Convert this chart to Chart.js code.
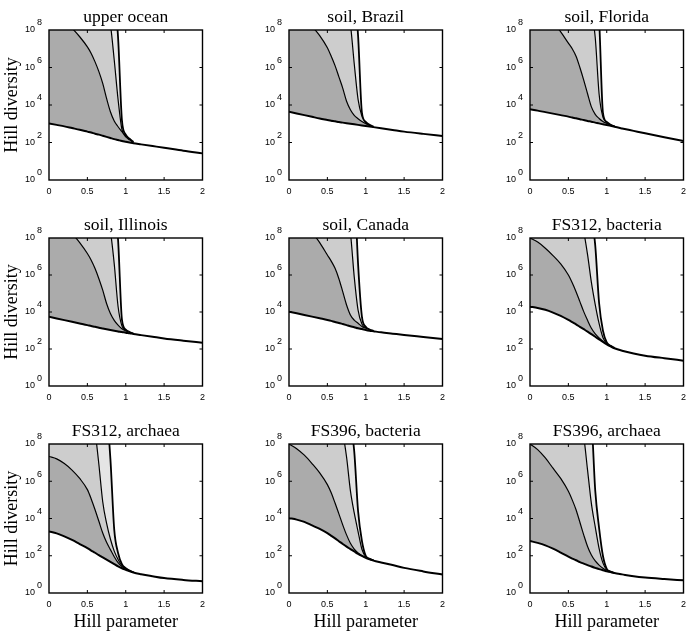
<!DOCTYPE html>
<html>
<head>
<meta charset="utf-8">
<script src="https://cdn.jsdelivr.net/npm/chart.js@4.4.1/dist/chart.umd.min.js"></script>
<style>
  body { margin: 0; background: #fff; }
  #wrap { position: relative; width: 692px; height: 635px; }
  canvas { position: absolute; }
</style>
</head>
<body>
<div id="wrap"></div>
<script>
// Hill parameter q, shared grid for every curve
const hillQ = [0, 0.1, 0.2, 0.3, 0.4, 0.5, 0.55, 0.6, 0.65, 0.7, 0.75, 0.8, 0.85, 0.9, 0.95, 1, 1.05, 1.1, 1.2, 1.35, 1.5, 1.75, 2];
const xTicks = [0, 0.5, 1, 1.5, 2];
const yExponents = [0, 2, 4, 6, 8];
const titles = ['upper ocean', 'soil, Brazil', 'soil, Florida', 'soil, Illinois', 'soil, Canada',
  'FS312, bacteria', 'FS312, archaea', 'FS396, bacteria', 'FS396, archaea'];

// log10 of Hill diversity. Lo = lower bound (whole q range),
// Mid / Up / Top = upper estimates, only up to q = 1.1 where they join Lo
const oceanLo = [3.02,2.94,2.86,2.77,2.68,2.58,2.53,2.47,2.42,2.36,2.30,2.24,2.18,2.13,2.08,2.04,2.00,1.96,1.90,1.81,1.72,1.56,1.42];
const oceanMid = [9.0,8.8,8.5,8.1,7.64,7.1,6.75,6.3,5.78,5.15,4.35,3.64,3.15,2.84,2.58,2.3,2.14,2.0];
const oceanUp = [13,12.8,12.6,12.2,11.8,11.2,10.9,10.6,10.2,9.8,9.2,8.3,6.4,4.3,2.7,2.36,2.16,2.01];
const oceanTop = [15,14.8,14.6,14.3,14,13.6,13.3,13,12.6,12.1,11.5,10.6,9.8,7.6,3.2,2.42,2.2,2.03];

const brazilLo = [3.64,3.55,3.46,3.37,3.28,3.2,3.16,3.13,3.09,3.06,3.03,3.0,2.97,2.94,2.91,2.88,2.85,2.82,2.76,2.67,2.58,2.46,2.35];
const brazilMid = [9.3,9.0,8.7,8.2,7.7,7.05,6.6,6.1,5.5,4.9,4.2,3.75,3.45,3.27,3.12,3.0,2.9,2.83];
const brazilUp = [12.5,12.3,12.1,11.9,11.6,11.2,10.9,10.6,10.2,9.8,9.2,8.3,6.2,4.3,3.4,3.05,2.92,2.84];
const brazilTop = [14.5,14.3,14.1,13.9,13.6,13.2,12.9,12.6,12.2,11.8,11.2,10.6,10.0,7.7,3.6,3.1,2.94,2.85];

const floridaLo = [3.77,3.7,3.62,3.54,3.46,3.38,3.33,3.29,3.24,3.2,3.15,3.11,3.06,3.02,2.97,2.93,2.89,2.84,2.75,2.62,2.49,2.28,2.08];
const floridaMid = [9.4,9.1,8.8,8.4,7.9,7.3,7.0,6.6,6.0,5.33,4.6,3.9,3.5,3.28,3.12,3.02,2.93,2.86];
const floridaUp = [13,12.8,12.6,12.3,12,11.6,11.3,11,10.7,10.4,10.0,9.0,7.6,4.6,3.35,3.07,2.94,2.86];
const floridaTop = [15,14.8,14.6,14.3,14,13.6,13.3,13,12.6,12.2,11.7,11.2,10.5,8.6,3.6,3.1,2.95,2.87];

const illinoisLo = [3.74,3.65,3.56,3.47,3.38,3.29,3.24,3.2,3.15,3.11,3.07,3.03,2.99,2.95,2.92,2.88,2.85,2.81,2.75,2.66,2.57,2.45,2.34];
const illinoisMid = [9.3,9.0,8.7,8.25,7.75,7.16,6.8,6.35,5.8,5.18,4.46,3.92,3.55,3.29,3.1,2.98,2.9,2.83];
const illinoisUp = [12.5,12.3,12.1,11.8,11.5,11.2,11,10.8,10.5,10.2,9.6,8.4,6.6,4.3,3.25,3.0,2.9,2.83];
const illinoisTop = [14.5,14.3,14.1,13.8,13.5,13.1,12.8,12.5,12.1,11.7,11.2,10.6,9.8,7.9,3.6,3.05,2.92,2.84];

const canadaLo = [4.02,3.93,3.84,3.75,3.66,3.57,3.52,3.46,3.41,3.35,3.29,3.23,3.18,3.12,3.08,3.03,2.99,2.96,2.9,2.83,2.76,2.65,2.54];
const canadaMid = [9.4,9.1,8.75,8.3,7.75,7.08,6.75,6.36,5.8,5.1,4.38,3.84,3.56,3.39,3.22,3.12,3.03,2.97];
const canadaUp = [12.5,12.3,12.1,11.8,11.5,11.1,10.9,10.6,10.3,10.0,9.5,8.3,5.9,4.1,3.35,3.15,3.04,2.97];
const canadaTop = [15,14.8,14.6,14.4,14.1,13.8,13.6,13.3,13,12.7,12.4,12,11,6.6,3.75,3.2,3.05,2.98];

const fs312bLo = [4.29,4.22,4.12,3.97,3.79,3.57,3.45,3.33,3.2,3.07,2.94,2.8,2.66,2.52,2.38,2.25,2.14,2.04,1.91,1.76,1.64,1.5,1.37];
const fs312bMid = [8.0,7.78,7.45,7.05,6.6,6.0,5.58,5.1,4.56,4.02,3.55,3.12,2.82,2.6,2.42,2.27,2.15,2.05];
const fs312bUp = [12.5,12.3,12.0,11.7,11.4,11.0,10.5,10.0,9.2,8.35,7.1,5.6,4.4,3.38,2.62,2.3,2.16,2.05];
const fs312bTop = [14,13.8,13.6,13.3,13,12.6,12.3,12,11.6,11,10.5,9.2,7.6,4.5,3.0,2.35,2.17,2.06];

const fs312aLo = [3.31,3.2,3.04,2.85,2.63,2.41,2.28,2.16,2.03,1.91,1.79,1.67,1.55,1.43,1.33,1.25,1.17,1.1,1.01,0.9,0.8,0.7,0.63];
const fs312aMid = [7.33,7.2,6.95,6.6,6.15,5.55,5.05,4.47,3.85,3.22,2.72,2.33,1.95,1.63,1.42,1.29,1.19,1.11];
const fs312aUp = [12,11.8,11.6,11.3,11,10.6,10,8.7,6.9,4.9,3.75,2.9,2.25,1.8,1.48,1.32,1.2,1.11];
const fs312aTop = [14,13.8,13.6,13.3,13,12.6,12.3,12,11.5,11,9.8,7.2,3.4,2.15,1.55,1.33,1.2,1.11];

const fs396bLo = [4.02,3.94,3.82,3.63,3.44,3.21,3.07,2.93,2.78,2.63,2.49,2.36,2.23,2.1,1.99,1.89,1.81,1.74,1.64,1.5,1.35,1.16,0.99];
const fs396bMid = [8.0,7.75,7.4,6.95,6.45,5.82,5.38,4.83,4.25,3.66,3.12,2.67,2.36,2.15,2.0,1.91,1.82,1.75];
const fs396bUp = [12.5,12.3,12.1,11.9,11.6,11.3,11,10.2,9.4,8.6,7.3,5.5,4.3,3.3,2.35,1.95,1.83,1.75];
const fs396bTop = [14,13.8,13.6,13.3,13,12.6,12.3,12,11.6,11,10.2,9.2,7.6,4.4,2.8,2.0,1.84,1.76];

const fs396aLo = [2.79,2.69,2.56,2.38,2.17,1.95,1.85,1.76,1.66,1.58,1.5,1.42,1.35,1.28,1.22,1.17,1.12,1.07,1.0,0.9,0.83,0.75,0.68];
const fs396aMid = [8.0,7.7,7.25,6.7,6.15,5.46,5.0,4.47,3.8,3.12,2.5,2.04,1.72,1.5,1.33,1.22,1.14,1.08];
const fs396aUp = [12.5,12.3,12,11.7,11.4,11,10.8,10,9.2,8.4,6.6,4.8,3.55,2.4,1.62,1.25,1.14,1.08];
const fs396aTop = [14,13.8,13.6,13.3,13,12.6,12.3,12,11.6,11,10,9.3,5.5,3.5,2.0,1.3,1.15,1.08];

const panels = [
  [oceanLo, oceanMid, oceanUp, oceanTop],
  [brazilLo, brazilMid, brazilUp, brazilTop],
  [floridaLo, floridaMid, floridaUp, floridaTop],
  [illinoisLo, illinoisMid, illinoisUp, illinoisTop],
  [canadaLo, canadaMid, canadaUp, canadaTop],
  [fs312bLo, fs312bMid, fs312bUp, fs312bTop],
  [fs312aLo, fs312aMid, fs312aUp, fs312aTop],
  [fs396bLo, fs396bMid, fs396bUp, fs396bTop],
  [fs396aLo, fs396aMid, fs396aUp, fs396aTop]
];

// grid of canvases
const colX = [0, 240, 481];
const rowY = [0, 208, 414];
const rowH = [208, 206, 221];
const xAxisH = [28, 28, 42];
const W = 211;

const lineStyles = [
  { width: 2, fill: false, bg: 'rgba(0,0,0,0)' },
  { width: 1.2, fill: '-1', bg: '#ababab' },
  { width: 1.2, fill: '-1', bg: '#cdcdcd' },
  { width: 1.8, fill: '-1', bg: '#e5e5e5' }
];

const framePlugin = {
  id: 'frame',
  afterDatasetsDraw(chart) {
    const { ctx, chartArea: a, scales: { x, y } } = chart;
    ctx.save();
    ctx.strokeStyle = '#000';
    ctx.lineWidth = 1;
    ctx.beginPath();
    xTicks.slice(1, -1).forEach(t => {
      const px = x.getPixelForValue(t);
      ctx.moveTo(px, a.bottom); ctx.lineTo(px, a.bottom - 3);
      ctx.moveTo(px, a.top); ctx.lineTo(px, a.top + 3);
    });
    yExponents.slice(1, -1).forEach(e => {
      const py = y.getPixelForValue(Math.pow(10, e));
      ctx.moveTo(a.left, py); ctx.lineTo(a.left + 3, py);
      ctx.moveTo(a.right, py); ctx.lineTo(a.right - 3, py);
    });
    ctx.stroke();
    ctx.lineWidth = 1.4;
    ctx.strokeRect(a.left, a.top, a.right - a.left, a.bottom - a.top);
    ctx.restore();
  },
  afterDraw(chart) {
    // superscript exponent next to each "10"
    const { ctx, chartArea: a, scales: { y } } = chart;
    ctx.save();
    ctx.fillStyle = '#000';
    ctx.font = '9px "Liberation Sans"';
    ctx.textAlign = 'left';
    ctx.textBaseline = 'middle';
    y.ticks.forEach(t => {
      const e = Math.round(Math.log10(t.value));
      ctx.fillText(String(e), a.left - 12, y.getPixelForValue(t.value) - 7);
    });
    ctx.restore();
  }
};

const wrap = document.getElementById('wrap');

panels.forEach((curves, k) => {
  const row = Math.floor(k / 3), col = k % 3;
  const cv = document.createElement('canvas');
  cv.width = W; cv.height = rowH[row];
  cv.style.left = colX[col] + 'px';
  cv.style.top = rowY[row] + 'px';
  cv.style.width = W + 'px';
  cv.style.height = rowH[row] + 'px';
  wrap.appendChild(cv);

  const datasets = curves.map((vals, i) => ({
    data: vals.map((v, j) => ({ x: hillQ[j], y: Math.pow(10, v) })),
    xAxisID: 'x',
    borderColor: '#000',
    borderWidth: lineStyles[i].width,
    backgroundColor: lineStyles[i].bg,
    fill: lineStyles[i].fill,
    pointRadius: 0,
    cubicInterpolationMode: 'monotone'
  }));

  new Chart(cv, {
    type: 'line',
    data: { datasets },
    plugins: [framePlugin],
    options: {
      responsive: false,
      animation: false,
      devicePixelRatio: 1,
      layout: { padding: { left: 0, right: 8, top: 0, bottom: 0 } },
      plugins: {
        legend: { display: false },
        tooltip: { enabled: false },
        title: { display: false }
      },
      scales: {
        x: {
          type: 'linear', position: 'bottom', min: 0, max: 2,
          grid: { display: false, drawTicks: false },
          border: { display: false },
          afterBuildTicks: s => { s.ticks = xTicks.map(v => ({ value: v })); },
          afterFit: s => { s.height = xAxisH[row]; },
          ticks: {
            color: '#000', padding: 6, maxRotation: 0, autoSkip: false,
            font: { family: 'Liberation Sans', size: 9 },
            callback: v => String(v)
          },
          title: {
            display: row === 2, text: 'Hill parameter', color: '#000',
            font: { family: 'Liberation Serif', size: 18 },
            padding: { top: 0, bottom: 2 }
          }
        },
        // top axis only carries the panel title, centred over the plot
        xTitle: {
          type: 'linear', position: 'top', min: 0, max: 2,
          grid: { display: false, drawTicks: false },
          border: { display: false },
          ticks: { display: false },
          afterFit: s => { s.height = 30; },
          title: {
            display: true, text: titles[k], color: '#000',
            font: { family: 'Liberation Serif', size: 17.5 },
            padding: { top: 6.5, bottom: 0 }
          }
        },
        y: {
          type: 'logarithmic', min: 1, max: 1e8,
          grid: { display: false, drawTicks: false },
          border: { display: false },
          afterBuildTicks: s => { s.ticks = yExponents.map(e => ({ value: Math.pow(10, e) })); },
          afterFit: s => { s.width = 49; },
          ticks: {
            color: '#000', padding: 14, autoSkip: false,
            font: { family: 'Liberation Sans', size: 9 },
            callback: () => '10'
          },
          title: {
            display: col === 0, text: 'Hill diversity', color: '#000',
            font: { family: 'Liberation Serif', size: 18 },
            padding: { top: 1, bottom: 0 }
          }
        }
      }
    }
  });
});
</script>
</body>
</html>
